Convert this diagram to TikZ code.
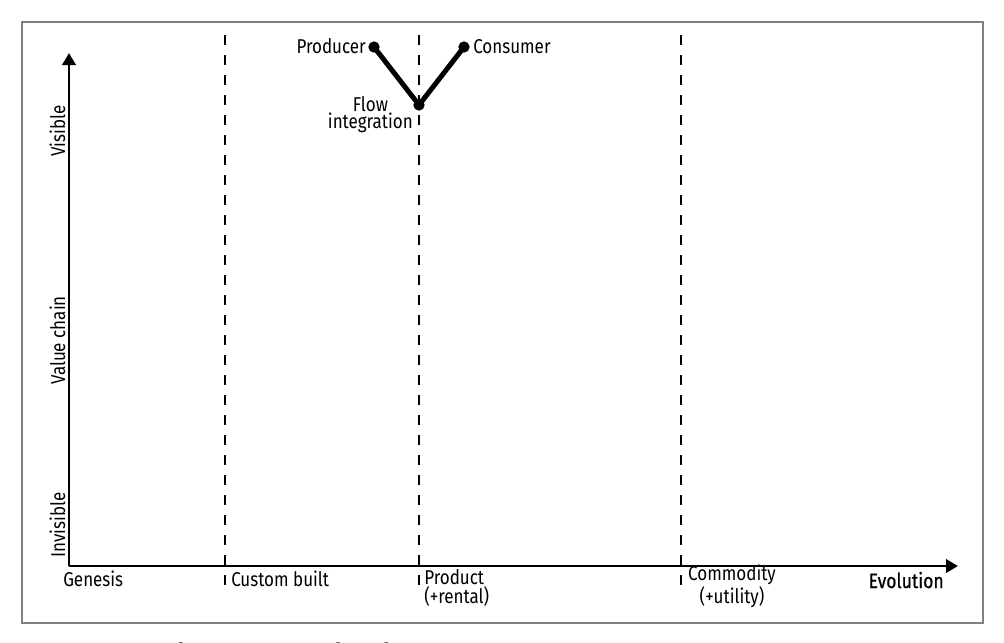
\documentclass[tikz,border=0pt]{standalone}
\usepackage{fontspec}
\setmainfont{Fira Sans}[FakeStretch=0.85]
\newfontfamily\capfont{Liberation Serif}
\usetikzlibrary{arrows.meta}
\begin{document}
\begin{tikzpicture}[x=0.75pt,y=-0.75pt,
  lbl/.style={inner sep=0pt, font=\fontsize{15}{12.75}\selectfont},
  ylbl/.style={lbl, rotate=90, anchor=base west},
  dot/.style={circle, fill=black, inner sep=0pt, minimum size=8.5pt},
  axis/.style={line width=2pt, -{Triangle[length=9pt,width=10pt]}},
  stage/.style={line width=2pt, dash pattern=on 7.5pt off 7.5pt},
  flowline/.style={line width=3.75pt, line cap=round, line join=round},
  frame/.style={draw=black!50, line width=1.5pt}]
\useasboundingbox (0,0) rectangle (1004,643);
% frame
\draw[frame] (22,22) rectangle (983,623);
% caption (cut off at the bottom)
\node[anchor=base west, inner sep=0pt, font=\capfont\itshape\fontsize{19}{22}\selectfont] (cap) at (25,660) {Figure 3-20. Flow across a value chain};
% stage boundaries
\coordinate (s1t) at (225,35); \coordinate (s1b) at (225,590);
\coordinate (s2t) at (419,35); \coordinate (s2b) at (419,590);
\coordinate (s3t) at (681,35); \coordinate (s3b) at (681,590);
\draw[stage] (s1t) -- (s1b);
\draw[stage] (s2t) -- (s2b);
\draw[stage] (s3t) -- (s3b);
% axes
\coordinate (O) at (69,566);
\coordinate (ytip) at (69,53);
\coordinate (xtip) at (958,566);
\draw[axis] (O) -- (ytip);
\draw[axis] (O) -- (xtip);
% axis labels
\node[ylbl] (vis) at (65,157) {Visible};
\node[ylbl] (vc) at (65,385) {Value chain};
\node[ylbl] (invis) at (65,558) {Invisible};
\node[lbl, anchor=base west] (gen) at (63,586) {Genesis};
\node[lbl, anchor=base west] (cus) at (231,586) {Custom built};
\node[lbl, anchor=base west, align=left] (prd) at (424,603) {Product\\(+rental)};
\node[lbl, anchor=base, align=center] (com) at (732,603) {Commodity\\(+utility)};
\node[lbl, anchor=base east, font=\fontsize{15.5}{16}\selectfont\addfontfeature{FakeBold=0.6}] (evo) at (944,588) {Evolution};
% components
\node[dot] (prod) at (374,47) {};
\node[dot] (cons) at (464,47) {};
\node[dot] (flow) at (419,105) {};
\draw[flowline] (prod.center) -- (flow.center) -- (cons.center);
\node[lbl, anchor=base east] (prodl) at (366,53) {Producer};
\node[lbl, anchor=base west] (consl) at (473,53) {Consumer};
\node[lbl, anchor=base east, align=center] (flowl) at (413,128) {Flow\\integration};
\end{tikzpicture}
\end{document}
